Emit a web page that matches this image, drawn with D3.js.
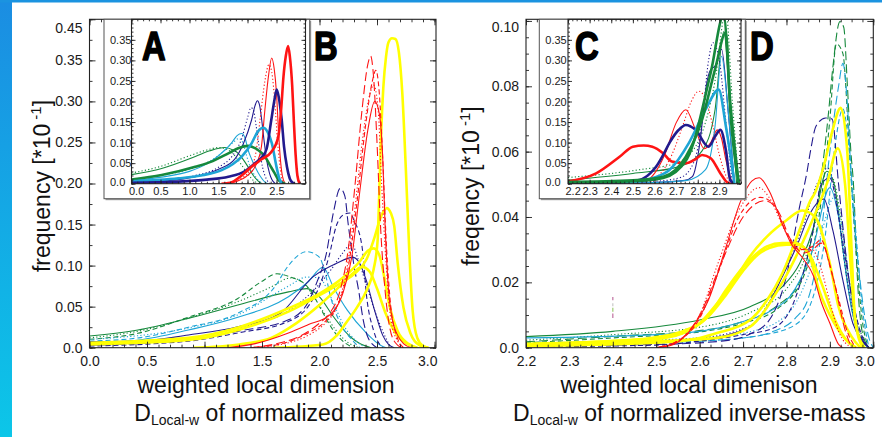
<!DOCTYPE html>
<html><head><meta charset="utf-8">
<script src="https://cdn.jsdelivr.net/npm/d3@7"></script>
<style>
html,body{margin:0;padding:0;background:#fff;}
svg{display:block;font-family:"Liberation Sans",Arial,Helvetica,sans-serif;}
</style></head><body>
<svg id="c" width="882" height="437"></svg>
<script>
// ---------------- DATA ----------------
// Inset A : x = weighted local dimension, y = frequency
const A_red_thick  = [[1.55,0],[1.7,0.002],[1.9,0.02],[2.07,0.041],[2.25,0.06],[2.41,0.077],[2.53,0.114],[2.58,0.18],[2.62,0.26],[2.66,0.31],[2.70,0.335],[2.73,0.31],[2.77,0.24],[2.8,0.15],[2.83,0.07],[2.86,0.02],[2.9,0]];
const A_red_thin   = [[1.6,0],[1.8,0.005],[2.0,0.02],[2.16,0.05],[2.24,0.09],[2.3,0.18],[2.36,0.26],[2.417,0.306],[2.46,0.28],[2.5,0.22],[2.53,0.14],[2.56,0.072],[2.6,0.02],[2.65,0]];
const A_red_dot    = [[1.6,0],[1.85,0.01],[2.05,0.035],[2.15,0.08],[2.22,0.16],[2.3,0.25],[2.37,0.29],[2.42,0.27],[2.47,0.2],[2.52,0.1],[2.57,0.03],[2.62,0]];
const A_navy_thick = [[0,0.002],[0.8,0.005],[1.3,0.01],[1.67,0.017],[1.95,0.03],[2.13,0.05],[2.25,0.065],[2.33,0.085],[2.41,0.155],[2.46,0.2],[2.503,0.229],[2.54,0.21],[2.59,0.155],[2.63,0.09],[2.68,0.041],[2.73,0.012],[2.78,0.002],[2.82,0]];
const A_navy_thin  = [[0,0.003],[0.6,0.007],[1.1,0.017],[1.5,0.035],[1.78,0.06],[1.93,0.098],[2.07,0.155],[2.13,0.19],[2.17,0.202],[2.21,0.19],[2.245,0.155],[2.29,0.1],[2.33,0.058],[2.38,0.025],[2.42,0.01],[2.48,0]];
const A_navy_dot   = [[0,0.004],[0.6,0.009],[1.1,0.02],[1.5,0.04],[1.75,0.07],[1.9,0.11],[2.0,0.16],[2.06,0.185],[2.1,0.18],[2.15,0.14],[2.2,0.09],[2.26,0.04],[2.33,0.01],[2.4,0]];
const A_cyan_thick = [[0,0.006],[0.81,0.013],[1.2,0.02],[1.555,0.033],[1.75,0.048],[1.9,0.066],[2.07,0.098],[2.17,0.125],[2.27,0.136],[2.35,0.125],[2.42,0.098],[2.5,0.041],[2.55,0.012],[2.6,0]];
const A_cyan_thin  = [[0,0.008],[0.52,0.016],[1.0,0.03],[1.32,0.05],[1.5,0.068],[1.61,0.082],[1.73,0.1],[1.82,0.117],[1.9,0.122],[1.96,0.11],[2.01,0.082],[2.07,0.06],[2.13,0.041],[2.22,0.018],[2.3,0.004],[2.36,0]];
const A_cyan_dot   = [[0,0.01],[0.5,0.02],[1.0,0.035],[1.35,0.055],[1.6,0.08],[1.75,0.1],[1.85,0.11],[1.92,0.1],[1.98,0.07],[2.05,0.04],[2.15,0.015],[2.25,0]];
const A_green_thick= [[0,0.01],[0.52,0.021],[1.1,0.041],[1.4,0.055],[1.67,0.074],[1.85,0.087],[2.01,0.092],[2.15,0.085],[2.30,0.066],[2.4,0.042],[2.47,0.025],[2.53,0.01],[2.59,0.003],[2.65,0]];
const A_green_thin = [[0,0.022],[0.52,0.037],[1.1,0.066],[1.35,0.08],[1.61,0.088],[1.75,0.082],[1.84,0.074],[1.93,0.058],[2.01,0.041],[2.1,0.02],[2.18,0.007],[2.25,0]];
const A_green_dot  = [[0,0.026],[0.5,0.042],[1.0,0.068],[1.3,0.082],[1.5,0.088],[1.65,0.083],[1.8,0.065],[1.9,0.045],[2.0,0.025],[2.1,0.008],[2.2,0]];

// Panel B
const B_y1 = [[1.6,0],[2.03,0.004],[2.15,0.015],[2.23,0.03],[2.33,0.05],[2.41,0.07],[2.47,0.095],[2.505,0.13],[2.52,0.19],[2.537,0.265],[2.555,0.317],[2.578,0.354],[2.6,0.372],[2.63,0.377],[2.66,0.376],[2.69,0.36],[2.72,0.31],[2.75,0.22],[2.78,0.12],[2.81,0.045],[2.85,0.012],[2.9,0.002],[2.94,0]];
const B_y2 = [[0,0.004],[0.86,0.0094],[1.3,0.022],[1.73,0.044],[2.0,0.064],[2.2,0.08],[2.32,0.092],[2.41,0.108],[2.48,0.135],[2.53,0.158],[2.584,0.170],[2.62,0.164],[2.65,0.148],[2.68,0.103],[2.73,0.049],[2.79,0.018],[2.87,0.003],[2.95,0]];
const B_y3 = [[0,0.006],[0.86,0.012],[1.3,0.025],[1.73,0.048],[2.0,0.066],[2.2,0.085],[2.35,0.105],[2.42,0.118],[2.47,0.121],[2.52,0.113],[2.56,0.088],[2.61,0.05],[2.68,0.02],[2.77,0.005],[2.85,0]];
const B_y4 = [[0.9,0],[1.3,0.004],[1.58,0.012],[1.8,0.03],[2.0,0.052],[2.2,0.078],[2.3,0.092],[2.37,0.0985],[2.44,0.092],[2.5,0.072],[2.58,0.04],[2.67,0.016],[2.77,0.004],[2.85,0]];
const B_r_solid = [[1.2,0],[1.44,0.005],[1.73,0.018],[1.9,0.028],[2.09,0.04],[2.2,0.065],[2.28,0.11],[2.35,0.19],[2.42,0.265],[2.48,0.30],[2.52,0.285],[2.55,0.23],[2.57,0.15],[2.6,0.07],[2.63,0.037],[2.68,0.015],[2.73,0.005],[2.8,0]];
const B_r_dash1 = [[1.4,0],[1.66,0.006],[1.83,0.014],[2.0,0.03],[2.09,0.042],[2.18,0.07],[2.25,0.12],[2.31,0.2],[2.37,0.29],[2.42,0.345],[2.445,0.355],[2.47,0.33],[2.5,0.25],[2.53,0.15],[2.57,0.07],[2.61,0.025],[2.66,0.006],[2.72,0]];
const B_r_dash2 = [[1.4,0],[1.7,0.006],[1.9,0.018],[2.05,0.032],[2.15,0.05],[2.24,0.09],[2.32,0.17],[2.4,0.27],[2.46,0.325],[2.49,0.338],[2.52,0.31],[2.55,0.23],[2.58,0.13],[2.62,0.05],[2.67,0.015],[2.73,0]];
const B_r_dot   = [[1.4,0],[1.7,0.005],[1.9,0.015],[2.05,0.03],[2.15,0.05],[2.23,0.09],[2.3,0.16],[2.38,0.26],[2.44,0.31],[2.47,0.32],[2.51,0.29],[2.54,0.2],[2.58,0.1],[2.62,0.035],[2.68,0.008],[2.74,0]];
const B_n_dash1 = [[0,0.003],[0.86,0.0094],[1.29,0.02],[1.73,0.034],[1.9,0.055],[1.975,0.079],[2.06,0.115],[2.12,0.164],[2.18,0.194],[2.22,0.185],[2.25,0.15],[2.3,0.1],[2.34,0.07],[2.38,0.034],[2.42,0.013],[2.5,0]];
const B_n_dash2 = [[0,0.002],[0.86,0.008],[1.29,0.018],[1.73,0.032],[1.9,0.05],[2.0,0.075],[2.08,0.11],[2.15,0.15],[2.21,0.162],[2.265,0.164],[2.3,0.155],[2.37,0.123],[2.41,0.062],[2.47,0.021],[2.55,0]];
const B_n_dot   = [[0,0.005],[0.86,0.012],[1.29,0.024],[1.73,0.045],[1.95,0.07],[2.1,0.095],[2.2,0.115],[2.28,0.127],[2.33,0.11],[2.4,0.08],[2.48,0.045],[2.55,0.02],[2.62,0]];
const B_n_solid = [[0,0.0073],[0.43,0.008],[0.86,0.0155],[1.29,0.0256],[1.66,0.042],[1.94,0.086],[2.15,0.103],[2.29,0.11],[2.34,0.105],[2.4,0.085],[2.48,0.045],[2.55,0.015],[2.6,0.004],[2.65,0]];
const B_c_dash  = [[0,0.008],[0.43,0.012],[0.86,0.025],[1.29,0.042],[1.61,0.074],[1.73,0.1],[1.89,0.117],[2.0,0.11],[2.05,0.09],[2.1,0.06],[2.18,0.03],[2.28,0.01],[2.35,0]];
const B_c_dot   = [[0,0.01],[0.86,0.024],[1.29,0.04],[1.73,0.075],[1.89,0.086],[2.0,0.085],[2.07,0.07],[2.15,0.045],[2.22,0.025],[2.32,0.008],[2.4,0]];
const B_c_solid = [[0,0.006],[0.43,0.0094],[0.86,0.0215],[1.29,0.037],[1.73,0.062],[1.9,0.08],[2.03,0.098],[2.12,0.074],[2.24,0.046],[2.41,0.0175],[2.53,0.003],[2.58,0]];
const B_g_solid = [[0,0.0142],[0.42,0.0215],[0.857,0.0357],[1.29,0.052],[1.73,0.068],[1.89,0.072],[2.0,0.062],[2.12,0.038],[2.27,0.013],[2.35,0.005],[2.45,0]];
const B_g_dash  = [[0,0.0102],[0.42,0.0175],[0.857,0.037],[1.29,0.06],[1.49,0.08],[1.63,0.09],[1.77,0.085],[1.85,0.08],[1.92,0.07],[2.02,0.045],[2.12,0.021],[2.22,0.006],[2.3,0]];
const B_g_dot   = [[0,0.012],[0.42,0.02],[0.857,0.036],[1.29,0.056],[1.58,0.074],[1.75,0.085],[1.85,0.08],[1.95,0.062],[2.05,0.04],[2.15,0.02],[2.25,0.006],[2.35,0]];

// Inset C
const C_red_thick  = [[2.2,0.005],[2.33,0.025],[2.44,0.066],[2.5,0.09],[2.55,0.093],[2.59,0.09],[2.64,0.074],[2.68,0.054],[2.745,0.05],[2.79,0.06],[2.82,0.07],[2.86,0.062],[2.905,0.025],[2.94,0.002],[2.96,0]];
const C_red_thin   = [[2.5,0],[2.55,0.003],[2.6,0.025],[2.65,0.074],[2.7,0.148],[2.745,0.18],[2.79,0.131],[2.83,0.085],[2.86,0.1],[2.89,0.131],[2.91,0.11],[2.93,0.058],[2.96,0]];
const C_red_dot    = [[2.55,0],[2.62,0.02],[2.68,0.07],[2.73,0.14],[2.77,0.2],[2.805,0.225],[2.84,0.2],[2.87,0.14],[2.9,0.07],[2.93,0.02],[2.96,0]];
const C_navy_thick = [[2.2,0.002],[2.45,0.004],[2.53,0.009],[2.58,0.025],[2.607,0.041],[2.64,0.07],[2.67,0.1],[2.71,0.13],[2.745,0.143],[2.79,0.131],[2.85,0.09],[2.88,0.115],[2.905,0.131],[2.93,0.082],[2.95,0.009],[2.97,0]];
const C_navy_thin  = [[2.2,0.001],[2.6,0.003],[2.74,0.008],[2.775,0.017],[2.81,0.1],[2.84,0.24],[2.86,0.278],[2.88,0.286],[2.91,0.327],[2.94,0.18],[2.97,0]];
const C_navy_dot   = [[2.2,0.003],[2.6,0.006],[2.72,0.015],[2.78,0.05],[2.82,0.15],[2.85,0.3],[2.87,0.343],[2.9,0.3],[2.93,0.15],[2.96,0]];
const C_cyan_thick = [[2.2,0.002],[2.5,0.005],[2.6,0.015],[2.67,0.034],[2.76,0.1],[2.836,0.18],[2.897,0.229],[2.93,0.14],[2.97,0]];
const C_cyan_thin  = [[2.2,0.001],[2.6,0.003],[2.75,0.008],[2.836,0.034],[2.88,0.14],[2.91,0.31],[2.94,0.18],[2.97,0]];
const C_green_thick1=[[2.2,0.004],[2.5,0.008],[2.64,0.017],[2.745,0.066],[2.82,0.156],[2.88,0.278],[2.93,0.368],[2.95,0.18],[2.99,0]];
const C_green_thick2=[[2.2,0.003],[2.5,0.006],[2.64,0.014],[2.75,0.06],[2.86,0.27],[2.92,0.41],[2.95,0.2],[2.99,0]];
const C_green_thin = [[2.2,0.009],[2.5,0.025],[2.71,0.041],[2.82,0.08],[2.88,0.18],[2.92,0.37],[2.95,0.2],[2.98,0]];
const C_green_dot  = [[2.2,0.015],[2.53,0.034],[2.7,0.05],[2.8,0.1],[2.88,0.25],[2.93,0.42],[2.96,0.2],[2.99,0]];

// Panel D
const D_r_solid = [[2.5,0],[2.54,0.001],[2.59,0.0075],[2.62,0.0145],[2.658,0.0297],[2.695,0.045],[2.72,0.051],[2.737,0.052],[2.76,0.048],[2.79,0.038],[2.81,0.032],[2.84,0.027],[2.862,0.022],[2.88,0.014],[2.9,0.0075],[2.92,0.001],[2.93,0]];
const D_r_dot   = [[2.5,0],[2.55,0.002],[2.6,0.01],[2.64,0.025],[2.69,0.042],[2.737,0.049],[2.76,0.046],[2.8,0.035],[2.84,0.03],[2.86,0.03],[2.88,0.024],[2.9,0.014],[2.92,0.005],[2.95,0]];
const D_r_dash  = [[2.5,0],[2.55,0.002],[2.6,0.009],[2.64,0.022],[2.69,0.04],[2.74,0.046],[2.77,0.044],[2.8,0.035],[2.83,0.03],[2.86,0.031],[2.88,0.033],[2.9,0.025],[2.92,0.015],[2.94,0.005],[2.96,0]];
const D_r_ldash = [[2.5,0],[2.56,0.003],[2.6,0.01],[2.65,0.026],[2.7,0.04],[2.75,0.045],[2.78,0.042],[2.81,0.033],[2.84,0.029],[2.86,0.03],[2.88,0.032],[2.91,0.02],[2.935,0.0054],[2.95,0]];
const D_y1 = [[2.2,0.0005],[2.5,0.0015],[2.6,0.003],[2.64,0.0045],[2.716,0.0085],[2.755,0.0145],[2.79,0.0226],[2.83,0.036],[2.855,0.045],[2.866,0.0475],[2.886,0.0556],[2.905,0.066],[2.925,0.0734],[2.94,0.06],[2.95,0.03],[2.958,0.0085],[2.976,0]];
const D_y2 = [[2.2,0.0008],[2.5,0.002],[2.64,0.003],[2.716,0.0064],[2.78,0.0176],[2.85,0.036],[2.895,0.051],[2.918,0.061],[2.935,0.05],[2.948,0.025],[2.96,0.007],[2.98,0]];
const D_y3 = [[2.2,0.001],[2.4,0.002],[2.52,0.003],[2.6,0.0075],[2.64,0.0135],[2.68,0.0206],[2.716,0.028],[2.755,0.034],[2.8,0.039],[2.836,0.042],[2.866,0.04],[2.9,0.0257],[2.92,0.0125],[2.95,0.0034],[2.97,0]];
const D_y4 = [[2.2,0.0012],[2.45,0.0025],[2.56,0.005],[2.625,0.0105],[2.66,0.0176],[2.70,0.0247],[2.73,0.0287],[2.755,0.031],[2.79,0.032],[2.82,0.032],[2.85,0.029],[2.875,0.0176],[2.91,0.0075],[2.94,0.002],[2.96,0]];
const D_y5 = [[2.2,0.001],[2.45,0.002],[2.56,0.0045],[2.62,0.0095],[2.66,0.016],[2.70,0.0235],[2.73,0.028],[2.76,0.0305],[2.8,0.0315],[2.83,0.0315],[2.855,0.028],[2.88,0.02],[2.91,0.009],[2.94,0.002],[2.96,0]];
const D_n_ldash = [[2.2,0.0005],[2.5,0.001],[2.65,0.002],[2.72,0.0044],[2.765,0.0094],[2.8,0.022],[2.83,0.043],[2.847,0.0536],[2.856,0.0607],[2.868,0.0678],[2.89,0.0703],[2.905,0.07],[2.92,0.05],[2.94,0.025],[2.96,0.008],[2.99,0]];
const D_n_solid = [[2.2,0.0005],[2.6,0.0025],[2.716,0.0064],[2.755,0.0125],[2.79,0.0216],[2.826,0.0318],[2.854,0.041],[2.886,0.0455],[2.907,0.0358],[2.93,0.0206],[2.953,0.0074],[2.975,0.002],[2.99,0]];
const D_n_dot   = [[2.2,0.0008],[2.6,0.003],[2.72,0.007],[2.76,0.014],[2.8,0.025],[2.84,0.038],[2.87,0.05],[2.895,0.055],[2.915,0.045],[2.935,0.025],[2.96,0.007],[2.99,0]];
const D_n_dash  = [[2.2,0.0003],[2.5,0.0008],[2.6,0.002],[2.7,0.004],[2.77,0.006],[2.82,0.015],[2.86,0.035],[2.88,0.05],[2.9,0.052],[2.92,0.04],[2.945,0.02],[2.97,0.005],[2.99,0]];
const D_g_dash1 = [[2.2,0.0018],[2.4,0.0035],[2.61,0.0054],[2.7,0.008],[2.78,0.013],[2.83,0.02],[2.86,0.035],[2.886,0.0587],[2.896,0.0708],[2.907,0.086],[2.923,0.0998],[2.932,0.098],[2.94,0.081],[2.948,0.0607],[2.955,0.0485],[2.962,0.0247],[2.975,0.0045],[2.99,0]];
const D_g_dash2 = [[2.2,0.0015],[2.4,0.003],[2.61,0.005],[2.7,0.0075],[2.78,0.012],[2.84,0.022],[2.88,0.045],[2.9,0.07],[2.915,0.093],[2.93,0.09],[2.945,0.06],[2.96,0.03],[2.975,0.008],[2.99,0]];
const D_g_solid = [[2.2,0.0034],[2.4,0.005],[2.6,0.0085],[2.716,0.0125],[2.79,0.0186],[2.83,0.0257],[2.86,0.0358],[2.893,0.054],[2.91,0.05],[2.93,0.03],[2.95,0.012],[2.97,0.003],[2.99,0]];
const D_g_dot   = [[2.2,0.0023],[2.4,0.004],[2.61,0.0065],[2.72,0.011],[2.8,0.018],[2.85,0.03],[2.88,0.045],[2.905,0.052],[2.925,0.04],[2.945,0.02],[2.97,0.005],[2.99,0]];
const D_c_dash  = [[2.2,0.0008],[2.5,0.0015],[2.7,0.003],[2.77,0.005],[2.82,0.009],[2.85,0.015],[2.88,0.035],[2.9,0.06],[2.92,0.08],[2.93,0.087],[2.94,0.075],[2.95,0.05],[2.97,0.02],[2.99,0.003],[3.0,0]];
const D_c_dash2 = [[2.2,0.0005],[2.6,0.002],[2.75,0.004],[2.82,0.007],[2.86,0.015],[2.89,0.035],[2.91,0.06],[2.93,0.073],[2.945,0.06],[2.96,0.035],[2.975,0.012],[2.99,0]];
const D_c_solid = [[2.2,0.003],[2.5,0.004],[2.6,0.005],[2.7,0.008],[2.76,0.011],[2.82,0.018],[2.86,0.03],[2.9,0.049],[2.92,0.04],[2.94,0.02],[2.96,0.006],[2.98,0]];
const D_c_dot   = [[2.2,0.0015],[2.6,0.003],[2.72,0.005],[2.8,0.01],[2.85,0.022],[2.88,0.035],[2.91,0.046],[2.93,0.035],[2.95,0.015],[2.97,0.003],[2.99,0]];
// small leftover legend stub in panel D (x value, y ranges)
const D_stub_x = 2.4;
const D_stub_y = [[0.0145,0.0155],[0.0127,0.0136],[0.0110,0.0122],[0.0091,0.0105]];

// tick values & labels
const xLabB = ["0.0","0.5","1.0","1.5","2.0","2.5","3.0"];
const xValB = [0,0.5,1,1.5,2,2.5,3];
const yLabB = ["0.0","0.05","0.10","0.15","0.20","0.25","0.30","0.35","0.45"];
const yValB = [0,0.05,0.1,0.15,0.2,0.25,0.3,0.35,0.4];
const xLabA = ["0.0","0.5","1.0","1.5","2.0","2.5"];
const xValA = [0,0.5,1,1.5,2,2.5];
const yLabIn = ["0.0","0.05","0.10","0.15","0.20","0.25","0.30","0.35"];
const yValIn = [0,0.05,0.1,0.15,0.2,0.25,0.3,0.35];
const xLabC = ["2.2","2.3","2.4","2.5","2.6","2.7","2.8","2.9"];
const xValC = [2.2,2.3,2.4,2.5,2.6,2.7,2.8,2.9];
const xLabD = ["2.2","2.3","2.4","2.5","2.6","2.7","2.8","2.9","3.0"];
const xValD = [2.2,2.3,2.4,2.5,2.6,2.7,2.8,2.9,3.0];
const yLabD = ["0.0","0.02","0.04","0.06","0.08","0.10"];
const yValD = [0,0.02,0.04,0.06,0.08,0.10];

// ---------------- STYLES ----------------
const COLORS = {red:"#ff1414", yellow:"#ffff00", navy:"#221a8e", cyan:"#1ea5d6", green:"#16893c", pink:"#c070a0", grey:"#c8c8c8", lime:"#9ccc70"};
const WIDTH = {thin:1.1, thick:2.6};
const DASH = {solid:null, dash:"5,3", ldash:"9,4", dot:"1.2,2.2"};

const A_series = [A_green_dot,A_green_thin,A_cyan_dot,A_cyan_thin,A_navy_dot,A_navy_thin,A_red_dot,A_red_thin,A_green_thick,A_cyan_thick,A_navy_thick,A_red_thick];
const A_styles = [["green","thin","dot"],["green","thin","solid"],["cyan","thin","dot"],["cyan","thin","solid"],["navy","thin","dot"],["navy","thin","solid"],["red","thin","dot"],["red","thin","solid"],["green","thick","solid"],["cyan","thick","solid"],["navy","thick","solid"],["red","thick","solid"]];
const B_series = [B_g_dash,B_g_dot,B_g_solid,B_c_dash,B_c_dot,B_c_solid,B_n_dash1,B_n_dash2,B_n_dot,B_n_solid,B_y4,B_y3,B_y2,B_y1,B_r_solid,B_r_dot,B_r_dash2,B_r_dash1];
const B_styles = [["green","thin","dash"],["green","thin","dot"],["green","thin","solid"],["cyan","thin","dash"],["cyan","thin","dot"],["cyan","thin","solid"],["navy","thin","ldash"],["navy","thin","dash"],["navy","thin","dot"],["navy","thin","solid"],["yellow","thick","solid"],["yellow","thick","solid"],["yellow","thick","solid"],["yellow","thick","solid"],["red","thin","solid"],["red","thin","dot"],["red","thin","dash"],["red","thin","ldash"]];
const C_series = [C_green_dot,C_green_thin,C_red_dot,C_red_thin,C_navy_dot,C_navy_thin,C_cyan_thin,C_red_thick,C_navy_thick,C_cyan_thick,C_green_thick2,C_green_thick1];
const C_styles = [["green","thin","dot"],["green","thin","solid"],["red","thin","dot"],["red","thin","solid"],["navy","thin","dot"],["navy","thin","solid"],["cyan","thin","solid"],["red","thick","solid"],["navy","thick","solid"],["cyan","thick","solid"],["green","thick","solid"],["green","thick","solid"]];
const D_series = [D_g_dash1,D_g_dash2,D_g_solid,D_g_dot,D_c_dash,D_c_dash2,D_c_solid,D_c_dot,D_n_ldash,D_n_dash,D_n_solid,D_n_dot,D_y5,D_y4,D_y3,D_y2,D_y1,D_r_solid,D_r_dot,D_r_dash,D_r_ldash];
const D_styles = [["green","thin","ldash"],["green","thin","dash"],["green","thin","solid"],["green","thin","dot"],["cyan","thin","ldash"],["cyan","thin","dash"],["cyan","thin","solid"],["cyan","thin","dot"],["navy","thin","ldash"],["navy","thin","dash"],["navy","thin","solid"],["navy","thin","dot"],["yellow","thick","solid"],["yellow","thick","solid"],["yellow","thick","solid"],["yellow","thick","solid"],["yellow","thick","solid"],["red","thin","solid"],["red","thin","dot"],["red","thin","dash"],["red","thin","ldash"]];

// ---------------- DRAW ----------------
const svg = d3.select("#c");
const defs = svg.append("defs");
const grad = defs.append("linearGradient").attr("id","edge").attr("x1",0).attr("y1",0).attr("x2",0).attr("y2",1);
grad.append("stop").attr("offset","0%").attr("stop-color","#1b8de2");
grad.append("stop").attr("offset","100%").attr("stop-color","#0cc6e8");
svg.append("rect").attr("x",0).attr("y",0).attr("width",12).attr("height",437).attr("fill","url(#edge)");
svg.append("rect").attr("x",0).attr("y",0).attr("width",882).attr("height",2.5).attr("fill","#1b93e0");

function steps(a,b,step){
  const n = Math.round((b-a)/step);
  return d3.range(n+1).map(i=>+(a+i*step).toFixed(5));
}
let clipN = 0;
function panel(o){
  const g = svg.append("g");
  if(o.box){
    const [bx0,by0,bx1,by1] = o.box;
    g.append("rect").attr("x",bx0+1.5).attr("y",by0+1.5).attr("width",bx1-bx0).attr("height",by1-by0).attr("fill","#9a9a9a");
    g.append("rect").attr("x",bx0).attr("y",by0).attr("width",bx1-bx0).attr("height",by1-by0).attr("fill","#fff").attr("stroke","#555").attr("stroke-width",1);
  }
  const x = d3.scaleLinear().domain(o.xDomain).range([o.left,o.right]);
  const y = d3.scaleLinear().domain(o.yDomain).range([o.bottom,o.top]);
  const id = "clip"+(clipN++);
  defs.append("clipPath").attr("id",id).append("rect").attr("x",o.left).attr("y",o.top).attr("width",o.right-o.left).attr("height",o.bottom-o.top);
  const line = d3.line().x(d=>x(d[0])).y(d=>y(d[1])).curve(d3.curveMonotoneX);
  const cg = g.append("g").attr("clip-path",`url(#${id})`);
  o.series.forEach((pts,i)=>{
    const s = o.styles[i];
    cg.append("path").attr("d",line(pts)).attr("fill","none")
      .attr("stroke",COLORS[s[0]]).attr("stroke-width",WIDTH[s[1]])
      .attr("stroke-dasharray",DASH[s[2]]).attr("stroke-linejoin","round");
  });
  if(o.extra) o.extra(cg,x,y);
  // ticks
  const minX = steps(o.xDomain[0], o.xDomain[1]-1e-9, o.xMinor).filter(v=>v<=o.xDomain[1]);
  const minY = steps(o.yDomain[0], o.yDomain[1]-1e-9, o.yMinor).filter(v=>v<=o.yDomain[1]);
  const axes = [
    [d3.axisBottom(x).tickValues(minX).tickSize(-o.tmin).tickFormat(""), `translate(0,${o.bottom})`],
    [d3.axisTop(x).tickValues(minX).tickSize(-o.tmin).tickFormat(""), `translate(0,${o.top})`],
    [d3.axisLeft(y).tickValues(minY).tickSize(-o.tmin).tickFormat(""), `translate(${o.left},0)`],
    [d3.axisRight(y).tickValues(minY).tickSize(-o.tmin).tickFormat(""), `translate(${o.right},0)`],
    [d3.axisTop(x).tickValues(o.xMajor).tickSize(-o.tmaj).tickFormat(""), `translate(0,${o.top})`],
    [d3.axisRight(y).tickValues(o.yMajor).tickSize(-o.tmaj).tickFormat(""), `translate(${o.right},0)`]
  ];
  axes.forEach(([ax,tr])=>{
    const a = g.append("g").attr("transform",tr).call(ax);
    a.select(".domain").remove();
    a.selectAll("line").attr("stroke","#222").attr("stroke-width",0.9);
  });
  const xa = g.append("g").attr("transform",`translate(0,${o.bottom})`)
    .call(d3.axisBottom(x).tickValues(o.xMajor).tickSize(-o.tmaj).tickPadding(o.xPad).tickFormat((d,i)=>o.xLabels[i]));
  xa.select(".domain").remove();
  xa.selectAll("line").attr("stroke","#222").attr("stroke-width",0.9);
  xa.attr("font-size",o.fs).attr("font-family",null);
  xa.selectAll("text").attr("fill","#1a1a1a").each(function(d,i){
    if(x(d) > o.right-6){ d3.select(this).attr("text-anchor","end").attr("x", o.right - x(d)+1); }
    if(o.box && i===0){ d3.select(this).attr("text-anchor","start").attr("x",-3); }
  });
  const ya = g.append("g").attr("transform",`translate(${o.left},0)`)
    .call(d3.axisLeft(y).tickValues(o.yMajor).tickSize(-o.tmaj).tickPadding(o.yPad).tickFormat((d,i)=>o.yLabels[i]));
  ya.select(".domain").remove();
  ya.selectAll("line").attr("stroke","#222").attr("stroke-width",0.9);
  ya.attr("font-size",o.fs).attr("font-family",null);
  ya.selectAll("text").attr("fill","#1a1a1a").each(function(d){
    const off = (o.top + o.topClamp) - y(d);
    if(off>0) d3.select(this).attr("y", off);
    if(o.box){ d3.select(this).attr("text-anchor","start").attr("x", o.box[0]+6-o.left); }
    if(o.box && d===0){ d3.select(this).attr("y",-2); }
  });
  g.append("rect").attr("x",o.left).attr("y",o.top).attr("width",o.right-o.left).attr("height",o.bottom-o.top)
    .attr("fill","none").attr("stroke","#222").attr("stroke-width",1.1);
  if(o.letter){
    g.append("text").attr("transform",`translate(${o.letter[1]},${o.letter[2]}) scale(0.8,1)`)
      .attr("font-size",41).attr("font-weight","bold").attr("fill","#000")
      .attr("stroke","#000").attr("stroke-width",1.6).attr("stroke-linejoin","round").text(o.letter[0]);
  }
  return {x,y};
}

// Panel B (main left)
panel({left:89.5,right:436,top:19.3,bottom:347.7,xDomain:[0,3.013],yDomain:[0,0.4],
  series:B_series,styles:B_styles,xMajor:xValB,xLabels:xLabB,yMajor:yValB,yLabels:yLabB,
  xMinor:0.1,yMinor:0.025,tmaj:6,tmin:3,fs:14,xPad:8,yPad:7,topClamp:8.4,letter:["B",314,60]});
// Inset A
panel({box:[104,19.3,309.7,198.7],left:131.5,right:305.5,top:19.3,bottom:183.7,xDomain:[0,3],yDomain:[0,0.4],
  series:A_series,styles:A_styles,xMajor:xValA,xLabels:xLabA,yMajor:yValIn,yLabels:yLabIn,
  xMinor:0.1,yMinor:0.01,tmaj:4,tmin:2,fs:11,xPad:4,yPad:2,topClamp:0,letter:["A",142,60]});
// Panel D (main right)
panel({left:526,right:873.3,top:19.3,bottom:347.7,xDomain:[2.2,3.0],yDomain:[0,0.1005],
  series:D_series,styles:D_styles,xMajor:xValD,xLabels:xLabD,yMajor:yValD,yLabels:yLabD,
  xMinor:0.025,yMinor:0.005,tmaj:6,tmin:3,fs:14,xPad:8,yPad:7,topClamp:7.4,letter:["D",750,60],
  extra:(cg,x,y)=>{
    const cols=["pink","grey","lime","pink"];
    D_stub_y.forEach((r,i)=>cg.append("line").attr("x1",x(D_stub_x)).attr("x2",x(D_stub_x))
      .attr("y1",y(r[0])).attr("y2",y(r[1])).attr("stroke",COLORS[cols[i]]).attr("stroke-width",1.2));
  }});
// Inset C
panel({box:[539.3,19.3,745.3,198.7],left:568,right:741,top:19.3,bottom:183.7,xDomain:[2.2,3.0],yDomain:[0,0.4],
  series:C_series,styles:C_styles,xMajor:xValC,xLabels:xLabC,yMajor:yValIn,yLabels:yLabIn,
  xMinor:0.02,yMinor:0.01,tmaj:4,tmin:2,fs:11,xPad:4,yPad:2,topClamp:0,letter:["C",575,60]});

// Axis titles
function yTitle(cx,cy,word){
  const t = svg.append("text").attr("transform",`translate(${cx},${cy}) rotate(-90)`)
    .attr("text-anchor","middle").attr("font-size",23).attr("fill","#111");
  t.append("tspan").text(word+" [*10");
  t.append("tspan").attr("font-size",15).attr("dy",-9).text(" -1");
  t.append("tspan").attr("dy",9).text("]");
}
function xTitle(cx1,cx2,l1,l2){
  svg.append("text").attr("x",cx1).attr("y",393).attr("text-anchor","middle").attr("font-size",23).attr("fill","#111").text(l1);
  const t = svg.append("text").attr("x",cx2).attr("y",420.5).attr("text-anchor","middle").attr("font-size",23).attr("fill","#111");
  t.append("tspan").text("D");
  t.append("tspan").attr("font-size",14).attr("dy",4).text("Local-w");
  t.append("tspan").attr("dy",-4).text(" "+l2);
}
yTitle(50,186,"frequency");
yTitle(479,186,"freqency");
xTitle(266,269.7,"weighted local dimension","of normalized mass");
xTitle(689,689.3,"weighted local dimenison","of normalized inverse-mass");
</script>
</body></html>
